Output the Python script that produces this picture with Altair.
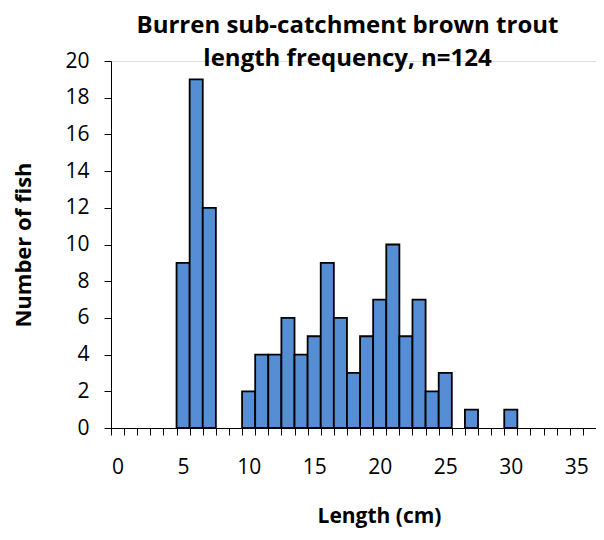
import altair as alt
import pandas as pd

lengths = [5, 6, 7, 10, 11, 12, 13, 14, 15, 16, 17, 18, 19, 20, 21, 22, 23, 24, 25, 27, 30]
counts = [9, 19, 12, 2, 4, 4, 6, 4, 5, 9, 6, 3, 5, 7, 10, 5, 7, 2, 3, 1, 1]
title_lines = ["Burren sub-catchment brown trout", "length frequency, n=124"]
x_categories = list(range(0, 37))
y_tick_values = list(range(0, 21, 2))

df = pd.DataFrame({"length": lengths, "count": counts})

FONT = "Open Sans"

chart = alt.Chart(df).mark_bar(
    color="#558ED5", stroke="black", strokeWidth=1.8
).encode(
    x=alt.X("length:O",
            scale=alt.Scale(domain=x_categories, paddingInner=0, paddingOuter=0),
            axis=alt.Axis(
                labelExpr="datum.value % 5 == 0 ? datum.label : ''",
                labelAngle=0, labelPadding=21, labelFontSize=21, labelFont=FONT,
                labelColor="black", labelOverlap=False,
                tickBand="extent",
                tickSize=7, tickColor="black", domainColor="black",
                grid=False,
                title="Length (cm)", titleFont=FONT, titleFontSize=21,
                titleFontWeight="bold", titleColor="black",
                titleX=268, titleY=94, titleBaseline="alphabetic", titleAlign="center",
            )),
    y=alt.Y("count:Q",
            scale=alt.Scale(domain=[0, 20], nice=False),
            axis=alt.Axis(
                values=y_tick_values, labelFontSize=21, labelFont=FONT,
                labelColor="black", labelPadding=15,
                tickSize=7, tickColor="black", domainColor="black",
                grid=False,
                title="Number of fish", titleFont=FONT, titleFontSize=22,
                titleFontWeight="bold", titleColor="black",
                titleX=-88, titleY=183.5, titleBaseline="middle", titleAlign="center",
                titleAngle=-90,
            )),
).properties(
    width=485,
    height=367,
    title=alt.Title(
        text=title_lines, font=FONT, fontSize=24, fontWeight="bold",
        color="black", lineHeight=33, anchor="middle", dx=-6, offset=-21,
    ),
    autosize=alt.AutoSizeParams(type="none"),
    padding={"left": 103, "top": 53, "right": 0, "bottom": 100},
).configure_view(stroke=None).configure(background="white")

chart.save("out.html", embed_options={"renderer": "svg", "actions": False})
